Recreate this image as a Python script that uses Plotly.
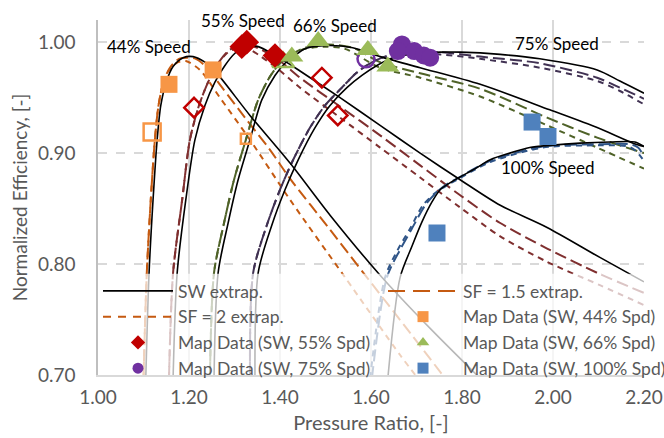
import plotly.graph_objects as go

# ---- speed-line curves: pressure ratio (pr) vs normalized efficiency (ef) ----
# 44 % speed
pr_44_sw = [1.105, 1.112, 1.121, 1.130, 1.138, 1.150, 1.165, 1.187, 1.209, 1.235, 1.255, 1.334, 1.422, 1.510, 1.620, 1.730, 1.835]
ef_44_sw = [0.697, 0.790, 0.858, 0.912, 0.943, 0.964, 0.978, 0.986, 0.987, 0.982, 0.975, 0.934, 0.891, 0.844, 0.790, 0.742, 0.699]
pr_44_sf15 = [1.100, 1.107, 1.116, 1.125, 1.133, 1.144, 1.158, 1.178, 1.196, 1.215, 1.237, 1.273, 1.323, 1.378, 1.422, 1.510, 1.591, 1.686, 1.763]
ef_44_sf15 = [0.697, 0.790, 0.858, 0.912, 0.943, 0.964, 0.977, 0.985, 0.986, 0.985, 0.978, 0.959, 0.932, 0.903, 0.877, 0.831, 0.788, 0.738, 0.697]
pr_44_sf2 = [1.100, 1.107, 1.116, 1.125, 1.133, 1.144, 1.158, 1.176, 1.193, 1.224, 1.268, 1.334, 1.422, 1.543, 1.664, 1.703]
ef_44_sf2 = [0.697, 0.790, 0.858, 0.912, 0.943, 0.964, 0.976, 0.982, 0.983, 0.975, 0.950, 0.912, 0.858, 0.788, 0.718, 0.697]

# 55 % speed
pr_55_sw = [1.165, 1.174, 1.193, 1.213, 1.235, 1.257, 1.279, 1.301, 1.323, 1.352, 1.389, 1.422, 1.444, 1.532, 1.620, 1.708, 1.796, 1.884, 1.987, 2.103, 2.200]
ef_55_sw = [0.697, 0.792, 0.858, 0.912, 0.943, 0.964, 0.979, 0.990, 0.996, 0.996, 0.988, 0.980, 0.974, 0.950, 0.925, 0.900, 0.876, 0.853, 0.833, 0.806, 0.784]
pr_55_sf15 = [1.156, 1.165, 1.185, 1.202, 1.222, 1.242, 1.264, 1.286, 1.308, 1.335, 1.360, 1.400, 1.444, 1.532, 1.620, 1.708, 1.796, 1.884, 1.987, 2.103, 2.200]
ef_55_sf15 = [0.697, 0.792, 0.858, 0.912, 0.943, 0.964, 0.981, 0.992, 0.997, 0.997, 0.993, 0.983, 0.968, 0.942, 0.916, 0.889, 0.862, 0.837, 0.814, 0.791, 0.774]
pr_55_sf2 = [1.156, 1.165, 1.185, 1.202, 1.222, 1.242, 1.264, 1.286, 1.308, 1.330, 1.355, 1.395, 1.444, 1.532, 1.620, 1.708, 1.796, 1.884, 1.987, 2.103, 2.200]
ef_55_sf2 = [0.697, 0.792, 0.858, 0.912, 0.943, 0.964, 0.981, 0.991, 0.995, 0.994, 0.988, 0.976, 0.959, 0.932, 0.905, 0.878, 0.851, 0.825, 0.802, 0.781, 0.763]

# 66 % speed
pr_66_sw = [1.255, 1.264, 1.286, 1.308, 1.334, 1.360, 1.389, 1.411, 1.433, 1.455, 1.503, 1.560, 1.620, 1.708, 1.840, 1.993, 2.097, 2.176, 2.200]
ef_66_sw = [0.697, 0.792, 0.837, 0.876, 0.912, 0.948, 0.970, 0.981, 0.988, 0.994, 0.997, 0.995, 0.987, 0.977, 0.962, 0.939, 0.923, 0.909, 0.906]
pr_66_sf15 = [1.246, 1.255, 1.277, 1.299, 1.325, 1.352, 1.378, 1.400, 1.426, 1.455, 1.503, 1.560, 1.620, 1.708, 1.840, 1.987, 2.097, 2.200]
ef_66_sf15 = [0.697, 0.792, 0.837, 0.876, 0.912, 0.948, 0.969, 0.981, 0.989, 0.995, 0.998, 0.995, 0.982, 0.972, 0.958, 0.932, 0.914, 0.900]
pr_66_sf2 = [1.246, 1.255, 1.277, 1.299, 1.325, 1.352, 1.378, 1.400, 1.426, 1.455, 1.503, 1.543, 1.620, 1.708, 1.840, 1.987, 2.097, 2.200]
ef_66_sf2 = [0.697, 0.792, 0.837, 0.876, 0.912, 0.948, 0.969, 0.981, 0.989, 0.994, 0.996, 0.994, 0.977, 0.968, 0.951, 0.925, 0.905, 0.886]

# 75 % speed
pr_75_sw = [1.345, 1.352, 1.382, 1.411, 1.440, 1.477, 1.510, 1.547, 1.580, 1.613, 1.648, 1.686, 1.752, 1.796, 1.884, 1.971, 2.097, 2.147, 2.200]
ef_75_sw = [0.697, 0.792, 0.835, 0.867, 0.894, 0.923, 0.943, 0.959, 0.970, 0.979, 0.986, 0.989, 0.991, 0.991, 0.989, 0.985, 0.975, 0.965, 0.954]
pr_75_sf15 = [1.334, 1.341, 1.371, 1.400, 1.429, 1.466, 1.499, 1.536, 1.567, 1.598, 1.631, 1.675, 1.752, 1.840, 1.971, 2.097, 2.147, 2.200]
ef_75_sf15 = [0.697, 0.792, 0.835, 0.867, 0.894, 0.923, 0.943, 0.959, 0.972, 0.981, 0.987, 0.991, 0.991, 0.987, 0.981, 0.968, 0.959, 0.949]
pr_75_sf2 = [1.334, 1.341, 1.371, 1.400, 1.429, 1.466, 1.499, 1.536, 1.567, 1.598, 1.631, 1.675, 1.752, 1.840, 1.971, 2.097, 2.147, 2.200]
ef_75_sf2 = [0.697, 0.792, 0.835, 0.867, 0.894, 0.923, 0.943, 0.959, 0.972, 0.981, 0.987, 0.990, 0.989, 0.985, 0.977, 0.965, 0.956, 0.944]

# 100 % speed
pr_100_sw = [1.637, 1.664, 1.690, 1.712, 1.734, 1.752, 1.769, 1.789, 1.829, 1.862, 1.905, 1.949, 1.993, 2.059, 2.125, 2.180, 2.200]
ef_100_sw = [0.697, 0.788, 0.816, 0.838, 0.856, 0.867, 0.872, 0.877, 0.886, 0.894, 0.900, 0.905, 0.907, 0.909, 0.910, 0.910, 0.906]
pr_100_sf15 = [1.602, 1.635, 1.664, 1.690, 1.719, 1.745, 1.767, 1.789, 1.862, 1.978, 2.103, 2.169, 2.187, 2.200]
ef_100_sf15 = [0.697, 0.788, 0.813, 0.832, 0.853, 0.865, 0.872, 0.877, 0.893, 0.906, 0.908, 0.908, 0.905, 0.897]
pr_100_sf2 = [1.598, 1.631, 1.659, 1.686, 1.714, 1.741, 1.767, 1.789, 1.862, 1.978, 2.103, 2.165, 2.182, 2.200]
ef_100_sf2 = [0.697, 0.788, 0.813, 0.832, 0.853, 0.864, 0.871, 0.876, 0.892, 0.905, 0.907, 0.906, 0.902, 0.893]

# ---- compressor map data points ----
map44_pr = [1.156, 1.253]
map44_ef = [0.962, 0.975]
map55_pr = [1.316, 1.327, 1.389]
map55_ef = [0.996, 1.000, 0.988]
map66_pr = [1.426, 1.484, 1.593, 1.637]
map66_ef = [0.987, 1.001, 0.993, 0.978]
map75_pr = [1.668, 1.659, 1.695, 1.716, 1.730]
map75_ef = [0.998, 0.992, 0.992, 0.988, 0.986]
map100_pr = [1.954, 1.989, 1.745]
map100_ef = [0.928, 0.915, 0.828]

# open symbols: check points
chk44_pr = [1.119]
chk44_ef = [0.919]
chk44s_pr = [1.325]
chk44s_ef = [0.913]
chk55_pr = [1.211, 1.492, 1.527]
chk55_ef = [0.941, 0.968, 0.934]
chk66_pr = [1.407]
chk66_ef = [0.982]
chk75_pr = [1.589]
chk75_ef = [0.985]

speed_labels = ["44% Speed", "55% Speed", "66% Speed", "75% Speed", "100% Speed"]
label_pr = [1.112, 1.319, 1.521, 2.009, 1.989]
label_ef = [0.996, 1.0195, 1.015, 0.999, 0.887]

FONT = "Lato"
GREY = "#595959"
C_SF = {"44": "#c55a11", "55": "#7f2f2f", "66": "#4f6228", "75": "#403152", "100": "#2f5487"}
C_MAP = {"44": "#f79646", "55": "#c00000", "66": "#9bbb59", "75": "#7030a0", "100": "#4f81bd"}
DASH_15 = "12px,5px"
DASH_2 = "6px,5px"

fig = go.Figure()

curves = [
    ("44", pr_44_sw, ef_44_sw, pr_44_sf15, ef_44_sf15, pr_44_sf2, ef_44_sf2),
    ("55", pr_55_sw, ef_55_sw, pr_55_sf15, ef_55_sf15, pr_55_sf2, ef_55_sf2),
    ("66", pr_66_sw, ef_66_sw, pr_66_sf15, ef_66_sf15, pr_66_sf2, ef_66_sf2),
    ("75", pr_75_sw, ef_75_sw, pr_75_sf15, ef_75_sf15, pr_75_sf2, ef_75_sf2),
    ("100", pr_100_sw, ef_100_sw, pr_100_sf15, ef_100_sf15, pr_100_sf2, ef_100_sf2),
]

for spd, xs, ys, x15, y15, x2, y2 in curves:
    fig.add_trace(go.Scatter(
        x=x15, y=y15, mode="lines", line=dict(color=C_SF[spd], width=2, dash=DASH_15, shape="spline", smoothing=0.8),
        showlegend=False, hoverinfo="skip"))
    fig.add_trace(go.Scatter(
        x=x2, y=y2, mode="lines", line=dict(color=C_SF[spd], width=2, dash=DASH_2, shape="spline", smoothing=0.8),
        showlegend=False, hoverinfo="skip"))

for spd, xs, ys, *_ in curves:
    first = spd == "44"
    fig.add_trace(go.Scatter(
        x=xs, y=ys, mode="lines", line=dict(color="black", width=1.6, shape="spline", smoothing=0.8),
        name="SW extrap.", showlegend=first, legend="legend", legendrank=1,
        legendgroup="sw" if first else None, hoverinfo="skip"))


def pts(x, y, symbol, size, color, hollow=False):
    if hollow:
        mk = dict(symbol=symbol + "-open", size=size, color=color, line=dict(width=2.5, color=color))
    else:
        mk = dict(symbol=symbol, size=size, color=color, line=dict(width=0))
    fig.add_trace(go.Scatter(x=x, y=y, mode="markers", marker=mk, showlegend=False, hoverinfo="skip"))


pts(chk44_pr, chk44_ef, "square", 17, C_MAP["44"], True)
pts(chk44s_pr, chk44s_ef, "square", 10, C_MAP["44"], True)
pts(chk55_pr, chk55_ef, "diamond", 15, C_MAP["55"], True)
pts(chk66_pr, chk66_ef, "triangle-up", 19, C_MAP["66"], True)
pts(chk75_pr, chk75_ef, "circle", 17, C_MAP["75"], True)

pts(map44_pr, map44_ef, "square", 17, C_MAP["44"])
pts(map55_pr, map55_ef, "diamond", 19, C_MAP["55"])
pts(map66_pr, map66_ef, "triangle-up", 20, C_MAP["66"])
pts(map75_pr, map75_ef, "circle", 18, C_MAP["75"])
pts(map100_pr, map100_ef, "square", 17, C_MAP["100"])

# legend keys for the SF extrapolations (drawn with longer dashes in the key)
fig.add_trace(go.Scatter(x=[None], y=[None], mode="lines", name="SF = 1.5 extrap.",
                         line=dict(color=C_SF["44"], width=2, dash="17px,8px"),
                         legend="legend2", legendrank=1, legendgroup="sf15"))
fig.add_trace(go.Scatter(x=[None], y=[None], mode="lines", name="SF = 2 extrap.",
                         line=dict(color=C_SF["44"], width=2, dash="8px,7px"),
                         legend="legend", legendrank=2, legendgroup="sf2"))

# legend entries for the map data
legend_items = [
    ("Map Data (SW, 44% Spd)", "square", C_MAP["44"], "legend2", 2),
    ("Map Data (SW, 55% Spd)", "diamond", C_MAP["55"], "legend", 3),
    ("Map Data (SW, 66% Spd)", "triangle-up", C_MAP["66"], "legend2", 3),
    ("Map Data (SW, 75% Spd)", "circle", C_MAP["75"], "legend", 4),
    ("Map Data (SW, 100% Spd)", "square", C_MAP["100"], "legend2", 4),
]
for name, sym, col, lg, rank in legend_items:
    fig.add_trace(go.Scatter(x=[None], y=[None], mode="markers", name=name,
                             marker=dict(symbol=sym, size=11, color=col),
                             legend=lg, legendrank=rank, legendgroup=name))

for txt, x, y in zip(speed_labels, label_pr, label_ef):
    fig.add_annotation(x=x, y=y, text=txt, showarrow=False,
                       font=dict(family=FONT, size=17, color="black"))

# translucent panel behind the legend
fig.add_shape(type="rect", xref="paper", yref="paper", x0=0, x1=1, y0=0, y1=0.285,
              fillcolor="rgba(255,255,255,0.72)", line=dict(width=0), layer="above")

legend_common = dict(yanchor="bottom", xanchor="left", y=-0.031, bgcolor="rgba(0,0,0,0)",
                     font=dict(family=FONT, size=17.5, color=GREY), itemwidth=70,
                     traceorder="normal", borderwidth=0, tracegroupgap=0.5)

fig.update_layout(
    width=664, height=438,
    margin=dict(l=98, r=20, t=20, b=63, autoexpand=False),
    paper_bgcolor="white", plot_bgcolor="white",
    font=dict(family=FONT, color=GREY),
    legend=dict(x=0.0, **legend_common),
    legend2=dict(x=0.522, **legend_common),
    xaxis=dict(range=[1.0, 2.2], dtick=0.2, tick0=1.0, tickformat=".2f",
               showgrid=True, gridcolor="#d9d9d9", gridwidth=1.5,
               showline=True, linecolor="#d9d9d9", linewidth=1.5,
               zeroline=False, ticks="", ticklabelstandoff=4,
               tickfont=dict(family=FONT, size=19, color=GREY),
               title=dict(text="Pressure Ratio, [-]", font=dict(family=FONT, size=20, color=GREY), standoff=9)),
    yaxis=dict(range=[0.70, 1.02], dtick=0.1, tick0=0.7, tickformat=".2f",
               showgrid=True, gridcolor="#d9d9d9", gridwidth=1.5, griddash="dash",
               showline=True, linecolor="#bfbfbf", linewidth=1.5,
               zeroline=False, ticks="", ticklabelstandoff=17,
               tickfont=dict(family=FONT, size=19, color=GREY),
               title=dict(text="Normalized Efficiency, [-]", font=dict(family=FONT, size=19, color=GREY), standoff=5)),
)

fig.write_html("out.html")
